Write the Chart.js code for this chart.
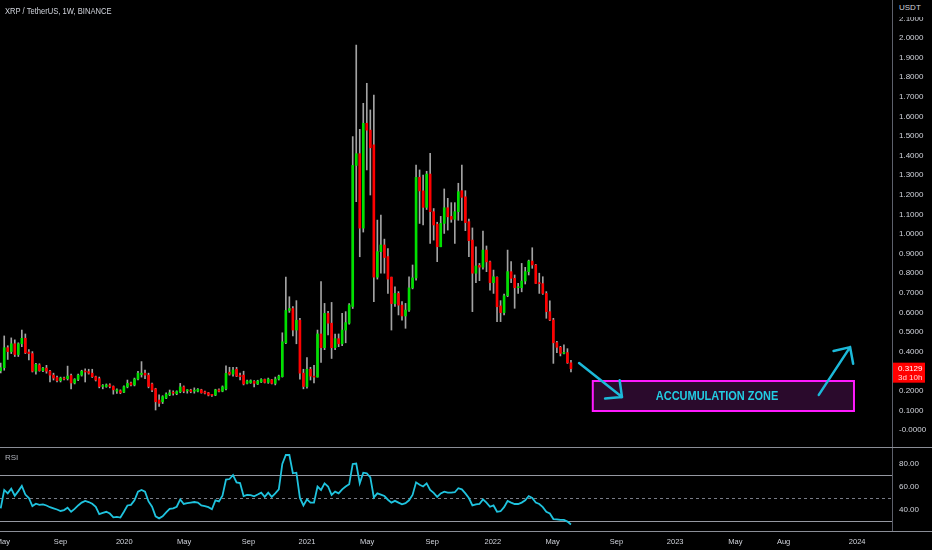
<!DOCTYPE html>
<html>
<head>
<meta charset="utf-8">
<script src="https://cdn.jsdelivr.net/npm/chart.js@4.4.1/dist/chart.umd.min.js"></script>
<style>
  html, body { margin: 0; padding: 0; background: #000; }
  #wrap { position: relative; width: 932px; height: 550px; overflow: hidden; background: #000; }
  canvas { position: absolute; left: 0; }
  #main { top: 0; }
  #rsi { top: 447px; }
  .lbl { position: absolute; color: #d1d4dc; font-family: 'Liberation Sans', Arial, sans-serif; white-space: nowrap; }
  #title { left: 5px; top: 5px; font-size: 9.5px; transform: scaleX(0.8); transform-origin: left center; }
  #rsiTitle { left: 5px; top: 453px; font-size: 8px; color: #b2b5be; }
  #unit { left: 893px; top: 0; width: 39px; height: 17px; background: #000; font-size: 8px; padding: 3px 0 0 6px; box-sizing: border-box; }
</style>
</head>
<body>
<div id="wrap">
  <canvas id="main" width="932" height="447"></canvas>
  <canvas id="rsi" width="932" height="103"></canvas>
  <div class="lbl" id="title">XRP / TetherUS, 1W, BINANCE</div>
  <div class="lbl" id="rsiTitle">RSI</div>
  <div class="lbl" id="unit">USDT</div>
</div>
<script>
Chart.defaults.color = '#d1d4dc';
Chart.defaults.font.family = "'Liberation Sans', Arial, sans-serif";
Chart.defaults.font.size = 8;

// weekly candles, week 0 = first week of 2020
const firstWeek = -35;
const open = [
  0.302, 0.318, 0.420, 0.400, 0.440, 0.385, 0.440, 0.468, 0.398, 0.390,
  0.300, 0.332, 0.303, 0.316, 0.300, 0.280, 0.268, 0.252, 0.262, 0.262,
  0.278, 0.240, 0.258, 0.280, 0.300, 0.298, 0.290, 0.272, 0.262, 0.222,
  0.222, 0.230, 0.222, 0.198, 0.200, 0.193, 0.220, 0.240, 0.230, 0.260,
  0.283, 0.290, 0.280, 0.235, 0.210, 0.153, 0.144, 0.163, 0.180, 0.190,
  0.185, 0.195, 0.220, 0.200, 0.204, 0.198, 0.198, 0.205, 0.195, 0.190,
  0.178, 0.178, 0.205, 0.198, 0.210, 0.295, 0.285, 0.310, 0.278, 0.280,
  0.238, 0.242, 0.248, 0.235, 0.245, 0.258, 0.243, 0.256, 0.238, 0.260,
  0.272, 0.445, 0.610, 0.620, 0.510, 0.560, 0.290, 0.222, 0.310, 0.275,
  0.270, 0.490, 0.420, 0.595, 0.545, 0.420, 0.466, 0.440, 0.510, 0.545,
  0.630, 1.350, 1.410, 1.030, 1.565, 1.530, 1.455, 0.780, 0.910, 0.944,
  0.885, 0.780, 0.645, 0.697, 0.637, 0.582, 0.612, 0.725, 0.776, 1.289,
  1.220, 1.136, 1.306, 1.114, 1.050, 0.935, 1.054, 1.134, 1.090, 1.075,
  1.114, 1.221, 1.190, 1.063, 0.969, 0.800, 0.840, 0.831, 0.918, 0.858,
  0.752, 0.779, 0.633, 0.599, 0.685, 0.808, 0.774, 0.726, 0.726, 0.760,
  0.808, 0.862, 0.842, 0.752, 0.747, 0.697, 0.604, 0.561, 0.446, 0.422,
  0.391, 0.395, 0.343
];
const high = [
  0.342, 0.480, 0.430, 0.470, 0.460, 0.445, 0.510, 0.490, 0.410, 0.400,
  0.340, 0.338, 0.320, 0.330, 0.305, 0.290, 0.275, 0.270, 0.270, 0.326,
  0.285, 0.262, 0.285, 0.305, 0.312, 0.310, 0.310, 0.275, 0.270, 0.232,
  0.235, 0.236, 0.225, 0.210, 0.205, 0.225, 0.255, 0.245, 0.265, 0.300,
  0.349, 0.306, 0.290, 0.240, 0.213, 0.180, 0.175, 0.190, 0.204, 0.200,
  0.200, 0.238, 0.225, 0.206, 0.208, 0.215, 0.212, 0.208, 0.198, 0.192,
  0.182, 0.208, 0.210, 0.225, 0.327, 0.320, 0.320, 0.320, 0.290, 0.300,
  0.255, 0.256, 0.252, 0.254, 0.262, 0.260, 0.265, 0.258, 0.270, 0.280,
  0.496, 0.780, 0.680, 0.630, 0.660, 0.570, 0.310, 0.370, 0.320, 0.330,
  0.510, 0.757, 0.646, 0.605, 0.651, 0.490, 0.490, 0.595, 0.604, 0.645,
  1.497, 1.964, 1.534, 1.667, 1.769, 1.633, 1.709, 1.071, 1.097, 0.974,
  0.926, 0.780, 0.731, 0.706, 0.655, 0.646, 0.782, 0.842, 1.352, 1.327,
  1.301, 1.320, 1.412, 1.130, 1.060, 1.090, 1.230, 1.182, 1.160, 1.160,
  1.259, 1.352, 1.221, 1.076, 1.031, 0.935, 0.850, 1.015, 0.939, 0.862,
  0.816, 0.782, 0.660, 0.694, 0.918, 0.859, 0.791, 0.748, 0.850, 0.830,
  0.867, 0.930, 0.845, 0.800, 0.782, 0.706, 0.659, 0.570, 0.452, 0.427,
  0.434, 0.415, 0.355
];
const low = [
  0.291, 0.305, 0.360, 0.390, 0.375, 0.375, 0.425, 0.390, 0.357, 0.296,
  0.285, 0.300, 0.298, 0.290, 0.245, 0.255, 0.245, 0.245, 0.255, 0.255,
  0.210, 0.235, 0.252, 0.275, 0.245, 0.285, 0.268, 0.250, 0.215, 0.210,
  0.218, 0.215, 0.183, 0.187, 0.185, 0.190, 0.215, 0.225, 0.225, 0.255,
  0.270, 0.262, 0.215, 0.195, 0.102, 0.120, 0.135, 0.160, 0.175, 0.178,
  0.180, 0.190, 0.190, 0.188, 0.190, 0.188, 0.194, 0.188, 0.184, 0.174,
  0.172, 0.175, 0.194, 0.195, 0.205, 0.280, 0.275, 0.272, 0.255, 0.230,
  0.235, 0.238, 0.220, 0.232, 0.242, 0.240, 0.238, 0.235, 0.230, 0.255,
  0.270, 0.440, 0.600, 0.480, 0.440, 0.260, 0.210, 0.213, 0.255, 0.240,
  0.270, 0.345, 0.410, 0.485, 0.365, 0.410, 0.425, 0.430, 0.445, 0.540,
  0.620, 1.165, 0.884, 1.010, 1.327, 1.199, 0.655, 0.770, 0.800, 0.800,
  0.697, 0.510, 0.630, 0.587, 0.561, 0.519, 0.605, 0.720, 0.765, 1.054,
  1.046, 1.125, 0.952, 0.969, 0.859, 0.935, 1.003, 1.020, 1.060, 0.952,
  1.070, 1.070, 1.017, 0.884, 0.604, 0.752, 0.762, 0.820, 0.808, 0.714,
  0.697, 0.553, 0.553, 0.587, 0.680, 0.752, 0.621, 0.697, 0.705, 0.745,
  0.791, 0.825, 0.748, 0.697, 0.692, 0.570, 0.558, 0.340, 0.395, 0.378,
  0.388, 0.340, 0.296
];
const close = [
  0.318, 0.420, 0.400, 0.440, 0.385, 0.440, 0.468, 0.394, 0.390, 0.300,
  0.335, 0.303, 0.316, 0.300, 0.280, 0.265, 0.252, 0.265, 0.260, 0.275,
  0.240, 0.258, 0.280, 0.300, 0.296, 0.290, 0.272, 0.255, 0.222, 0.226,
  0.230, 0.222, 0.205, 0.205, 0.190, 0.221, 0.238, 0.230, 0.260, 0.290,
  0.290, 0.280, 0.222, 0.204, 0.144, 0.136, 0.170, 0.183, 0.190, 0.188,
  0.196, 0.220, 0.198, 0.201, 0.196, 0.199, 0.208, 0.190, 0.188, 0.178,
  0.177, 0.205, 0.198, 0.220, 0.289, 0.285, 0.306, 0.275, 0.272, 0.235,
  0.250, 0.252, 0.238, 0.250, 0.258, 0.243, 0.260, 0.238, 0.260, 0.275,
  0.450, 0.610, 0.620, 0.510, 0.560, 0.290, 0.222, 0.310, 0.275, 0.270,
  0.490, 0.420, 0.595, 0.545, 0.420, 0.466, 0.440, 0.510, 0.548, 0.638,
  1.350, 1.410, 1.030, 1.565, 1.530, 1.440, 0.780, 0.910, 0.944, 0.880,
  0.770, 0.645, 0.697, 0.637, 0.582, 0.612, 0.725, 0.776, 1.289, 1.220,
  1.136, 1.306, 1.114, 1.046, 0.935, 1.054, 1.134, 1.088, 1.075, 1.114,
  1.216, 1.187, 1.058, 0.966, 0.800, 0.837, 0.831, 0.918, 0.858, 0.752,
  0.782, 0.629, 0.599, 0.685, 0.808, 0.774, 0.726, 0.730, 0.760, 0.808,
  0.862, 0.842, 0.748, 0.747, 0.697, 0.604, 0.561, 0.445, 0.422, 0.391,
  0.395, 0.343, 0.3129
];
const rsi = [
  41, 57, 54, 58, 52, 56, 60.5, 53, 50, 43,
  45, 44, 44.5, 43.5, 42, 41, 40, 38.7, 39.5, 41.5,
  38, 40.5, 43.5, 46, 47.4, 46.5, 45, 42.4, 36, 37,
  38, 36.5, 33.2, 33.5, 33, 38, 43.5, 44, 48, 55.5,
  57, 55.5, 47, 42.4, 34, 32.3, 34, 37.5, 40.5, 41,
  42.4, 48.8, 44.8, 45.5, 46, 46.5, 46, 43.5, 43, 42,
  40.2, 48, 47, 52, 66, 66.5, 70, 63.6, 63, 51.7,
  52.7, 52.5, 51.5, 53, 54.6, 51, 54.6, 51, 54, 57.5,
  79.6, 87.4, 87.4, 71.5, 72, 50, 43.5, 48.8, 46, 46,
  60, 57, 62.7, 60, 52.7, 55.5, 54, 57.5, 60, 62,
  79.6, 80, 62.7, 72, 71.5, 68, 50.5, 54, 53, 51.7,
  48.5, 46, 47.5, 46, 44.5, 45.5, 48, 52.7, 63.6, 61.5,
  60, 62.7, 57, 54.5, 51, 54, 55.5, 54.6, 54.6, 55,
  58.5, 57.5, 54, 50, 43.5, 44.5, 44.8, 48.8, 46, 42.4,
  43.5, 38, 38.5, 42, 47.4, 46, 44.8, 44.8, 46, 48,
  51.7, 50, 46, 44.8, 42, 38, 36.5, 31.7, 31.5, 31,
  31, 29.5, 27
];

const priceTicks = [0, 0.1, 0.2, 0.3, 0.4, 0.5, 0.6, 0.7, 0.8, 0.9, 1.0,
  1.1, 1.2, 1.3, 1.4, 1.5, 1.6, 1.7, 1.8, 1.9, 2.0, 2.1];
const rsiTicks = [40, 60, 80];
const rsiLevels = [70, 50, 30];
const timeLabels = ['May', 'Sep', '2020', 'May', 'Sep', '2021', 'May', 'Sep', '2022',
  'May', 'Sep', '2023', 'May', 'Aug', '2024'];
const timeTickWeeks = [-34.4, -18.0, 0.1, 17.1, 35.4, 52.0, 69.1, 87.6, 104.8,
  121.8, 139.9, 156.6, 173.7, 187.4, 208.3];

// drawn annotations (week, price)
const zoneWeeks = [133.2, 207.4];
const zonePrices = [0.097, 0.25];
const zoneLabel = 'ACCUMULATION ZONE';
const zoneLabelAt = [168.5, 0.17];
const arrows = [
  [[129.3, 0.342], [141.5, 0.168]],
  [[197.4, 0.179], [206.3, 0.423]]
];

const UP = '#00e000';
const DOWN = '#ff0000';
const WICK = '#a3a3a3';
const LINE = '#8a8d96';
const xMin = -35.2, xMax = 218.2;

const weeks = close.map((_, i) => firstWeek + i);

function fixWidth(w) {
  return s => { s.width = w; s.paddingTop = 0; s.paddingBottom = 0; };
}

const zonePlugin = {
  id: 'zone',
  afterDatasetsDraw(chart) {
    const { ctx, scales: { x, y } } = chart;
    const x0 = x.getPixelForValue(zoneWeeks[0]);
    const x1 = x.getPixelForValue(zoneWeeks[1]);
    const y0 = y.getPixelForValue(zonePrices[1]);
    const y1 = y.getPixelForValue(zonePrices[0]);
    ctx.save();
    ctx.fillStyle = '#2a0a2c';
    ctx.fillRect(x0, y0, x1 - x0, y1 - y0);
    ctx.strokeStyle = '#ff1aff';
    ctx.lineWidth = 2;
    ctx.strokeRect(x0, y0, x1 - x0, y1 - y0);

    ctx.fillStyle = '#22cde3';
    ctx.font = "bold 12.5px 'Liberation Sans', Arial, sans-serif";
    ctx.textAlign = 'center';
    ctx.textBaseline = 'middle';
    ctx.translate(x.getPixelForValue(zoneLabelAt[0]), y.getPixelForValue(zoneLabelAt[1]));
    ctx.scale(0.88, 1);
    ctx.fillText(zoneLabel, 0, 0);
    ctx.restore();

    ctx.save();
    ctx.strokeStyle = '#1cb9d9';
    ctx.lineWidth = 2.5;
    ctx.lineCap = 'round';
    arrows.forEach(([a, b]) => {
      const ax = x.getPixelForValue(a[0]), ay = y.getPixelForValue(a[1]);
      const bx = x.getPixelForValue(b[0]), by = y.getPixelForValue(b[1]);
      const ang = Math.atan2(ay - by, ax - bx);
      ctx.beginPath();
      ctx.moveTo(ax, ay);
      ctx.lineTo(bx, by);
      [-0.76, 0.76].forEach(d => {
        ctx.moveTo(bx, by);
        ctx.lineTo(bx + 17 * Math.cos(ang + d), by + 17 * Math.sin(ang + d));
      });
      ctx.stroke();
    });
    ctx.restore();
  }
};

const tagPlugin = {
  id: 'tag',
  afterDraw(chart) {
    const { ctx, scales: { y } } = chart;
    const last = close[close.length - 1];
    const py = y.getPixelForValue(last);
    ctx.save();
    ctx.fillStyle = '#ff0000';
    ctx.fillRect(893, py - 6, 32, 20);
    ctx.fillStyle = '#ffffff';
    ctx.font = "8px 'Liberation Sans', Arial, sans-serif";
    ctx.textBaseline = 'middle';
    ctx.fillText(last.toFixed(4), 898, py);
    ctx.fillStyle = '#ffd6d6';
    ctx.fillText('3d 10h', 898, py + 9);
    ctx.restore();
  }
};

new Chart(document.getElementById('main'), {
  type: 'bar',
  data: {
    datasets: [
      {
        label: 'wick',
        data: weeks.map((w, i) => ({ x: w, y: [low[i], high[i]] })),
        backgroundColor: WICK,
        barThickness: 1,
        grouped: false,
        order: 2
      },
      {
        label: 'body',
        data: weeks.map((w, i) => ({ x: w, y: [open[i], close[i]] })),
        backgroundColor: weeks.map((w, i) => close[i] >= open[i] ? UP : DOWN),
        barThickness: 2,
        minBarLength: 1,
        grouped: false,
        order: 1
      }
    ]
  },
  options: {
    responsive: false,
    animation: false,
    devicePixelRatio: 1,
    layout: { padding: 0 },
    plugins: { legend: { display: false }, tooltip: { enabled: false } },
    scales: {
      x: { type: 'linear', min: xMin, max: xMax, offset: false, display: false },
      y: {
        position: 'right',
        min: -0.0867,
        max: 2.194,
        afterFit: fixWidth(40),
        afterBuildTicks: s => { s.ticks = priceTicks.map(v => ({ value: v })); },
        ticks: {
          padding: 7,
          callback: v => v === 0 ? '-0.0000' : v.toFixed(4)
        },
        grid: { display: false, drawTicks: false },
        border: { display: true, color: '#5d606b' }
      }
    }
  },
  plugins: [zonePlugin, tagPlugin]
});

const panePlugin = {
  id: 'pane',
  beforeDatasetsDraw(chart) {
    const { ctx, chartArea: a, scales: { yRsi } } = chart;
    ctx.save();
    ctx.lineWidth = 1;
    rsiLevels.forEach(v => {
      const py = Math.round(yRsi.getPixelForValue(v)) + 0.5;
      ctx.strokeStyle = v === 50 ? '#787b86' : '#9598a1';
      ctx.setLineDash(v === 50 ? [3, 3] : []);
      ctx.beginPath();
      ctx.moveTo(a.left, py);
      ctx.lineTo(a.right, py);
      ctx.stroke();
    });
    ctx.restore();
  },
  afterDraw(chart) {
    const { ctx, chartArea: a } = chart;
    ctx.save();
    ctx.strokeStyle = LINE;
    ctx.lineWidth = 1;
    ctx.beginPath();
    ctx.moveTo(0, 0.5);
    ctx.lineTo(932, 0.5);
    ctx.moveTo(0, a.bottom + 0.5);
    ctx.lineTo(932, a.bottom + 0.5);
    ctx.stroke();
    ctx.restore();
  }
};

new Chart(document.getElementById('rsi'), {
  type: 'line',
  data: {
    datasets: [{
      label: 'RSI',
      data: weeks.map((w, i) => ({ x: w, y: rsi[i] })),
      borderColor: '#1fc3de',
      borderWidth: 1.8,
      pointRadius: 0,
      tension: 0,
      yAxisID: 'yRsi'
    }]
  },
  options: {
    responsive: false,
    animation: false,
    devicePixelRatio: 1,
    layout: { padding: 0 },
    plugins: { legend: { display: false }, tooltip: { enabled: false } },
    scales: {
      x: {
        type: 'linear',
        min: xMin,
        max: xMax,
        afterFit: s => { s.height = 19; s.paddingLeft = 0; s.paddingRight = 0; },
        afterBuildTicks: s => { s.ticks = timeTickWeeks.map(v => ({ value: v })); },
        ticks: {
          autoSkip: false,
          maxRotation: 0,
          padding: 6,
          font: { size: 7.5 },
          callback: (v, i) => timeLabels[i]
        },
        grid: { display: false, drawTicks: false },
        border: { display: false }
      },
      yRsi: {
        position: 'right',
        min: 21.3,
        max: 94.35,
        afterFit: fixWidth(40),
        afterBuildTicks: s => { s.ticks = rsiTicks.map(v => ({ value: v })); },
        ticks: { padding: 7, callback: v => v.toFixed(2) },
        grid: { display: false, drawTicks: false },
        border: { display: true, color: '#5d606b' }
      }
    }
  },
  plugins: [panePlugin]
});
</script>
</body>
</html>
